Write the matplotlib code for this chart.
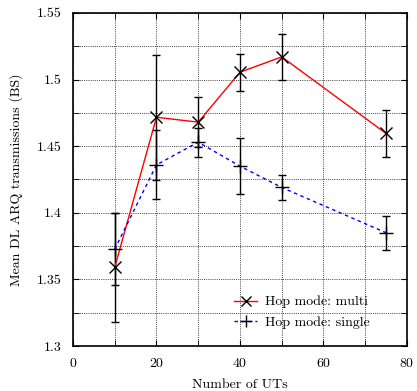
import numpy as np
import matplotlib
matplotlib.use("Agg")
import matplotlib.pyplot as plt
from matplotlib.ticker import MultipleLocator

plt.rcParams['font.family'] = 'serif'
plt.rcParams['font.serif'] = ['cmr10', 'DejaVu Serif']
plt.rcParams['mathtext.fontset'] = 'cm'
plt.rcParams['axes.formatter.use_mathtext'] = True

# data
n_uts = [10, 20, 30, 40, 50, 75]
multi_mean = [1.359, 1.4717, 1.468, 1.5055, 1.517, 1.4595]
multi_err = [0.041, 0.047, 0.019, 0.014, 0.0175, 0.018]
single_mean = [1.3727, 1.436, 1.453, 1.435, 1.419, 1.385]
single_err = [0.027, 0.026, 0.011, 0.021, 0.0095, 0.0127]

fig = plt.figure(figsize=(4.17, 3.91), dpi=100)
ax = fig.add_axes([0.175, 0.115, 0.801, 0.852])

ax.errorbar(n_uts, multi_mean, yerr=multi_err, fmt='none', ecolor='black',
            elinewidth=1.0, capsize=3, capthick=1.0, zorder=3)
ax.errorbar(n_uts, single_mean, yerr=single_err, fmt='none', ecolor='black',
            elinewidth=1.0, capsize=3, capthick=1.0, zorder=3)

ax.plot(n_uts, multi_mean, color='red', lw=1.0, marker='x', ms=8,
        mec='black', mew=1.0, label='Hop mode: multi', zorder=4)
ax.plot(n_uts, single_mean, color='blue', lw=1.0, ls=(0, (2.5, 2.5)),
        marker='+', ms=10, mec='black', mew=1.0, label='Hop mode: single', zorder=4)

ax.set_xlim(0, 80)
ax.set_ylim(1.3, 1.55)
ax.xaxis.set_major_locator(MultipleLocator(20))
ax.xaxis.set_minor_locator(MultipleLocator(10))
ax.yaxis.set_major_locator(MultipleLocator(0.05))
ax.yaxis.set_minor_locator(MultipleLocator(0.025))
ax.yaxis.set_major_formatter(plt.FuncFormatter(lambda v, p: ('%.2f' % v).rstrip('0').rstrip('.')))

ax.grid(True, which='both', color='#444444', ls=(0, (1, 1.2)), lw=0.7)
ax.tick_params(which='both', direction='in', top=True, right=True, labelsize=10)
ax.tick_params(which='major', length=4, pad=8)
ax.tick_params(which='minor', length=4)
for s in ax.spines.values():
    s.set_linewidth(1.2)

ax.set_xlabel('Number of UTs', fontsize=10, labelpad=6)
ax.set_ylabel('Mean DL ARQ transmissions (BS)', fontsize=10, labelpad=10)

ax.legend(loc='lower right', frameon=False, fontsize=10, handlelength=1.6,
          handletextpad=0.6, markerscale=0.85, borderaxespad=0.0,
          labelspacing=0.55, bbox_to_anchor=(0.905, 0.035))

fig.savefig('out.png', dpi=100)
